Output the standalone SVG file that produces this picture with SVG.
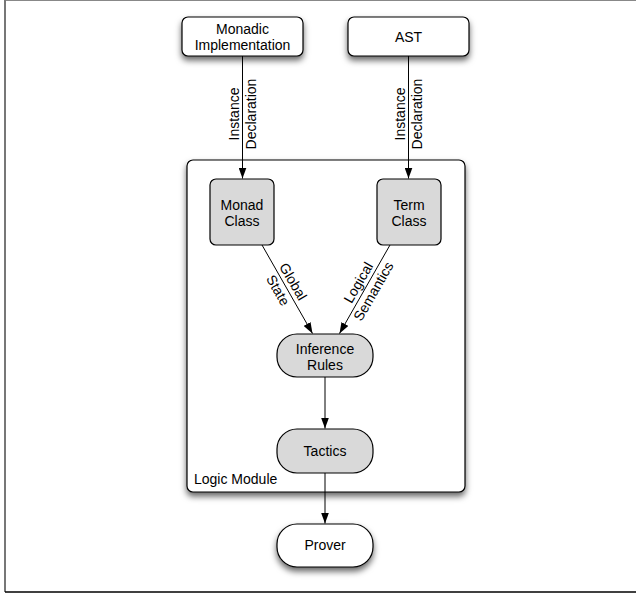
<svg xmlns="http://www.w3.org/2000/svg" width="636" height="593" viewBox="0 0 636 593">
<style>
text{font-family:"Liberation Sans",Arial,Helvetica,sans-serif;font-size:14px;fill:#000}
.c{text-anchor:middle}
.box{stroke:#000;stroke-width:1.2}
.w{fill:#fff}
.g{fill:#d9d9d9}
.edge{stroke:#000;stroke-width:1;fill:none;marker-end:url(#arr)}
</style>
<defs>
<filter id="sh" x="-20%" y="-20%" width="140%" height="150%">
<feDropShadow dx="0" dy="4" stdDeviation="3" flood-color="#000" flood-opacity="0.6"/>
</filter>
<marker id="arr" markerUnits="userSpaceOnUse" markerWidth="11" markerHeight="8" refX="11" refY="4" orient="auto">
<path d="M0,0 L11,4 L0,8 z" fill="#000"/>
</marker>
</defs>
<rect x="0" y="0" width="636" height="593" fill="#fff"/>
<g id="frame">
<line x1="4" y1="0.5" x2="636" y2="0.5" stroke="#888" stroke-width="1"/>
<line x1="5" y1="0" x2="5" y2="592" stroke="#777" stroke-width="2"/>
<line x1="5" y1="592" x2="636" y2="592" stroke="#000" stroke-width="1.5"/>
</g>
<g id="logic-module">
<rect class="box w" x="187" y="160" width="278" height="332" rx="6" filter="url(#sh)"/>
<text x="194" y="484">Logic Module</text>
</g>
<g id="monadic-implementation">
<rect class="box w" x="182" y="17" width="121" height="39" rx="6" filter="url(#sh)"/>
<text class="c" x="242.5" y="33.5">Monadic</text>
<text class="c" x="242.5" y="50">Implementation</text>
</g>
<g id="ast">
<rect class="box w" x="348" y="17" width="121" height="39" rx="6" filter="url(#sh)"/>
<text class="c" x="408.5" y="41.5">AST</text>
</g>
<g id="monad-class">
<rect class="box g" x="210" y="179" width="64" height="66" rx="6"/>
<text class="c" x="242" y="209.5">Monad</text>
<text class="c" x="242" y="226">Class</text>
</g>
<g id="term-class">
<rect class="box g" x="377" y="179" width="64" height="66" rx="6"/>
<text class="c" x="409" y="209.5">Term</text>
<text class="c" x="409" y="226">Class</text>
</g>
<g id="inference-rules">
<rect class="box g" x="277" y="334" width="96" height="43" rx="20"/>
<text class="c" x="325" y="353.5">Inference</text>
<text class="c" x="325" y="370">Rules</text>
</g>
<g id="tactics">
<rect class="box g" x="277" y="429" width="96" height="44" rx="20"/>
<text class="c" x="325" y="456">Tactics</text>
</g>
<g id="prover">
<rect class="box w" x="277" y="524" width="96" height="43" rx="20" filter="url(#sh)"/>
<text class="c" x="325" y="550">Prover</text>
</g>
<g id="connectors">
<line class="edge" x1="242.5" y1="56" x2="242.5" y2="178.5"/>
<line class="edge" x1="408.5" y1="56" x2="408.5" y2="178.5"/>
<line class="edge" x1="262" y1="245" x2="312.5" y2="333.5"/>
<line class="edge" x1="390" y1="245" x2="339.5" y2="333.5"/>
<line class="edge" x1="325" y1="377" x2="325" y2="428.5"/>
<line class="edge" x1="325" y1="473" x2="325" y2="523.5"/>
<text class="c" transform="translate(242.5,114) rotate(-90)"><tspan x="0" y="-4">Instance</tspan><tspan x="0" y="13.5">Declaration</tspan></text>
<text class="c" transform="translate(408.5,114) rotate(-90)"><tspan x="0" y="-4">Instance</tspan><tspan x="0" y="13.5">Declaration</tspan></text>
<text class="c" transform="translate(285.5,286) rotate(60)"><tspan x="0" y="-4">Global</tspan><tspan x="0" y="13.5">State</tspan></text>
<text class="c" transform="translate(366,287) rotate(-60)"><tspan x="0" y="-4">Logical</tspan><tspan x="0" y="13.5">Semantics</tspan></text>
</g>
</svg>
